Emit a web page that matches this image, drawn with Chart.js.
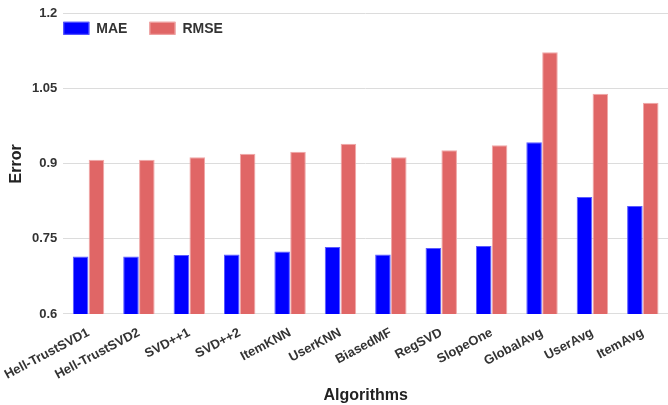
<!DOCTYPE html>
<html lang="en">
<head>
  <meta charset="UTF-8" />
  <title>MAE / RMSE by algorithm</title>
  <script src="https://cdn.jsdelivr.net/npm/chart.js"></script>
  <style>
    html, body { margin: 0; padding: 0; background: #fff; }
    #wrap { width: 668px; height: 405px; }
  </style>
</head>
<body>
  <div id="wrap"><canvas id="errChart"></canvas></div>

  <script>
    const algorithms = ['Hell-TrustSVD1', 'Hell-TrustSVD2', 'SVD++1', 'SVD++2', 'ItemKNN', 'UserKNN',
      'BiasedMF', 'RegSVD', 'SlopeOne', 'GlobalAvg', 'UserAvg', 'ItemAvg'];
    const maeValues = [0.715, 0.715, 0.718, 0.719, 0.725, 0.734, 0.719, 0.732, 0.736, 0.943, 0.834, 0.816];
    const rmseValues = [0.908, 0.908, 0.913, 0.920, 0.924, 0.940, 0.913, 0.927, 0.937, 1.123, 1.040, 1.022];
    const yTickLabels = ['0.6', '0.75', '0.9', '1.05', '1.2'];

    const font = 'Liberation Sans, Arial, sans-serif';
    const textColor = '#333';

    // legend drawn inside the plot, in one row at the top left
    const insideLegend = {
      id: 'insideLegend',
      afterDraw(chart) {
        const c = chart.ctx;
        const area = chart.chartArea;
        let x = area.left;
        const y = area.top + 8;
        c.save();
        c.font = 'bold 14px ' + font;
        c.textBaseline = 'middle';
        chart.data.datasets.forEach(ds => {
          c.fillStyle = ds.backgroundColor;
          c.fillRect(x, y, 26, 13);
          c.strokeStyle = ds.borderColor;
          c.lineWidth = 1;
          c.strokeRect(x + 0.5, y + 0.5, 25, 12);
          c.fillStyle = textColor;
          c.fillText(ds.label, x + 33, y + 7);
          x += 33 + c.measureText(ds.label).width + 22;
        });
        c.restore();
      }
    };

    const ctx = document.getElementById('errChart').getContext('2d');
    new Chart(ctx, {
      type: 'bar',
      data: {
        labels: algorithms,
        datasets: [
          {
            label: 'MAE',
            data: maeValues,
            backgroundColor: '#0000ff',
            borderColor: '#5b5bff',
            borderWidth: 1,
            categoryPercentage: 0.63,
            barPercentage: 0.98
          },
          {
            label: 'RMSE',
            data: rmseValues,
            backgroundColor: '#e06666',
            borderColor: '#f0a8a8',
            borderWidth: 1,
            categoryPercentage: 0.63,
            barPercentage: 0.98
          }
        ]
      },
      plugins: [insideLegend],
      options: {
        responsive: true,
        maintainAspectRatio: false,
        animation: false,
        layout: { padding: { top: 7, right: 0, left: 6, bottom: 0 } },
        plugins: {
          legend: { display: false },
          tooltip: { enabled: false }
        },
        scales: {
          x: {
            grid: { display: false },
            border: { color: '#ddd' },
            ticks: {
              color: textColor,
              minRotation: 28,
              maxRotation: 28,
              autoSkip: false,
              font: { family: font, size: 13, weight: 'bold' }
            },
            title: {
              display: true,
              text: 'Algorithms',
              color: '#222',
              font: { family: font, size: 16, weight: 'bold' },
              padding: { top: 0, bottom: 0 }
            }
          },
          y: {
            min: 0.6,
            max: 1.2,
            border: { display: false },
            grid: { color: '#dcdcdc', drawTicks: false },
            ticks: {
              stepSize: 0.15,
              padding: 6,
              color: textColor,
              font: { family: font, size: 13, weight: 'bold' },
              callback: (value, i) => yTickLabels[i]
            },
            title: {
              display: true,
              text: 'Error',
              color: '#222',
              font: { family: font, size: 16, weight: 'bold' },
              padding: { top: 0, bottom: 0 }
            }
          }
        }
      }
    });
  </script>
</body>
</html>
